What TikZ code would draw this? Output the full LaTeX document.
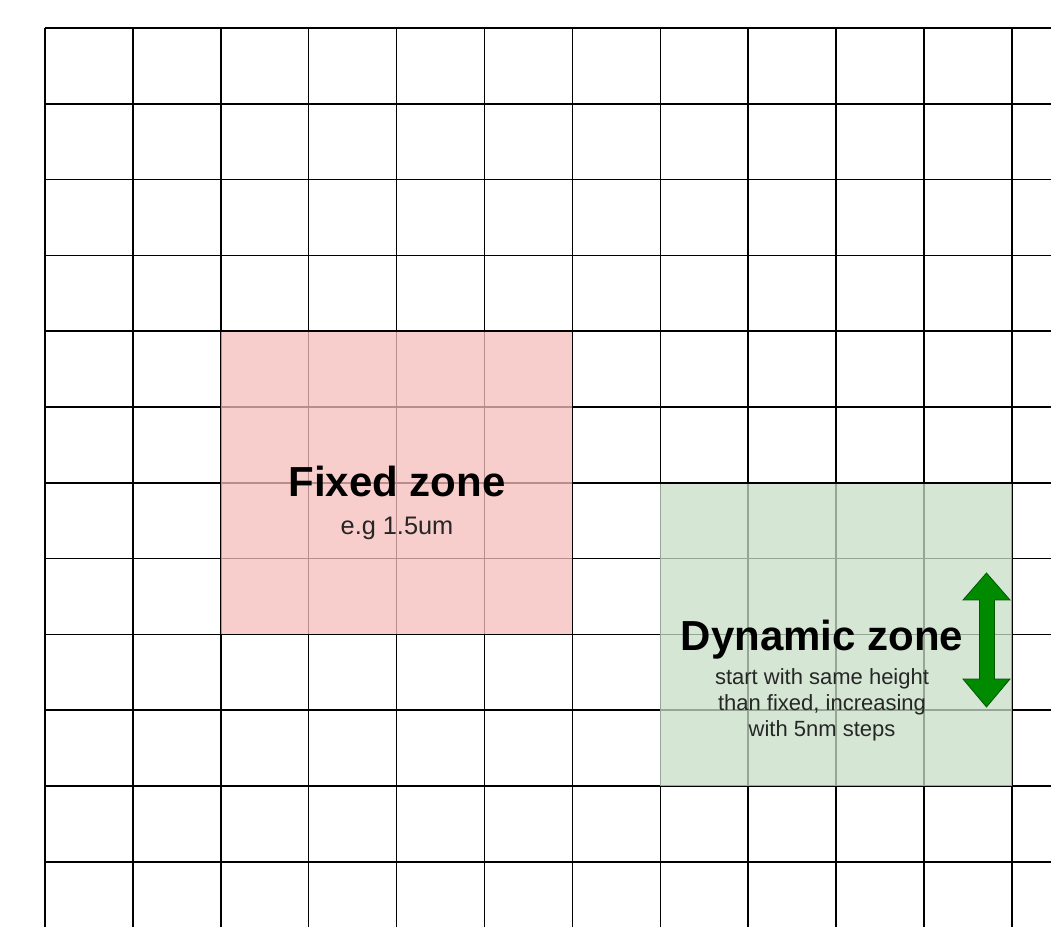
\documentclass[tikz,border=0pt]{standalone}
\usepackage{fontspec}
\setmainfont{Liberation Sans}
\definecolor{fixedfill}{RGB}{246,190,187}
\definecolor{dynfill}{RGB}{199,224,198}
\definecolor{arrowgreen}{RGB}{0,138,0}
\definecolor{arrowline}{RGB}{0,87,0}
\tikzset{
  gridline/.style={black, line width=1.1pt},
  zone/.style={draw=none, fill opacity=0.75},
  zonetitle/.style={anchor=base, font=\fontsize{31.5}{36}\selectfont\bfseries},
  zonesub/.style={align=center, font=\fontsize{16.5}{19.5}\selectfont, text=black!85}
}
\begin{document}
\begin{tikzpicture}[x=0.75pt, y=-0.75pt]
        % Page frame
        \useasboundingbox (0,0) rectangle (1051,927);
        \fill[white] (0,0) rectangle (1051,927);
        % Grid
        \foreach \i in {0,...,11}
          \draw[gridline] ({45+87.9*\i},28) -- ({45+87.9*\i},927);
        \foreach \j in {0,...,11}
          \draw[gridline] (45,{28+75.8*\j}) -- (1051,{28+75.8*\j});
        % Fixed zone
        \fill[zone, fill=fixedfill] (221,332) rectangle (572,634);
        \node[zonetitle] (fixedtitle) at (397,497) {Fixed zone};
        \node[anchor=base, font=\fontsize{19}{23}\selectfont, text=black!85] (fixedsub) at (397,535) {e.g 1.5um};
        % Dynamic zone
        \fill[zone, fill=dynfill] (660,484) rectangle (1012,786);
        \node[zonetitle] (dyntitle) at (822,650) {Dynamic zone};
        \node[zonesub] (dynsub) at (822,705) {start with same height\\than fixed, increasing\\with 5nm steps};
        % Height arrow
        \draw[fill=arrowgreen, draw=arrowline, line width=0.6pt, line join=miter]
          (986.5,573) -- (1010,600) -- (994.5,600) -- (994.5,679) -- (1010,679)
          -- (986.5,707) -- (963,679) -- (979.5,679) -- (979.5,600) -- (963,600) -- cycle;
    \end{tikzpicture}
\end{document}
